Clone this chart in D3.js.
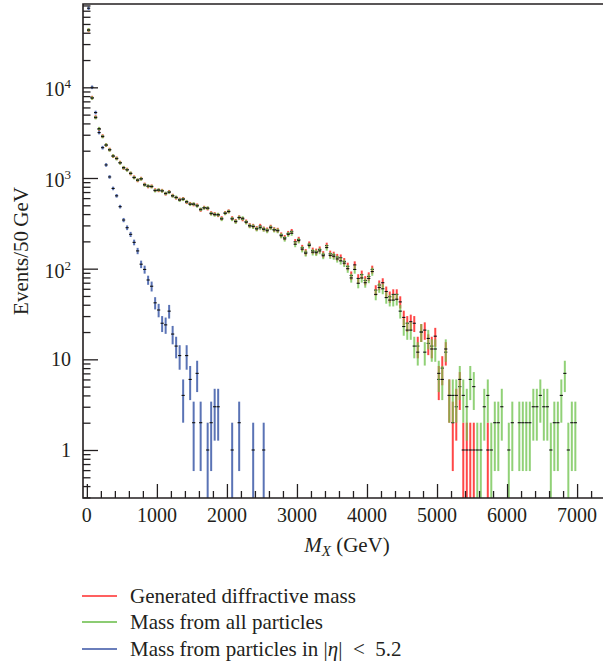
<!DOCTYPE html>
<html>
<head>
<meta charset="utf-8">
<script src="https://cdn.jsdelivr.net/npm/d3@7"></script>
<style>
  body { margin: 0; background: #fff; }
  text { font-family: "Liberation Serif", "DejaVu Serif", serif; fill: #231f20; }
</style>
</head>
<body>
<svg id="chart" width="603" height="665"></svg>
<script>
// Event counts per 50 GeV bin of the diffractive mass M_X (bin i covers [50*i, 50*i+50) GeV)
const binWidth = 50;

const generatedMass = [
  42500, 7700, 4700, 3450, 2900, 2300, 2060, 1740, 1650, 1480,
  1290, 1240, 1120, 1020, 940, 985, 850, 805, 810, 735,
  730, 725, 670, 705, 640, 605, 580, 590, 540, 520,
  510, 500, 445, 472, 460, 410, 400, 390, 360, 412,
  430, 360, 335, 368, 352, 330, 300, 295, 278, 295,
  275, 268, 288, 270, 266, 236, 220, 245, 258, 198,
  210, 170, 152, 186, 158, 154, 163, 144, 180, 146,
  142, 134, 132, 120, 106, 84, 110, 78, 86, 74,
  82, 98, 58, 66, 70, 56, 49, 52, 52, 43,
  29, 25, 26, 25, 14, 20, 21, 15, 14, 18,
  6, 8, 12, 4, 2, 3, 5, 1, 1, 1,
  1, 0, 0, 0, 1, 0, 0, 0, 0, 0,
  0, 0, 0, 0, 0, 0, 0, 0, 0, 0,
  0, 0, 0, 0, 0, 0, 0, 0, 0, 0
];

const allParticlesMass = [
  43000, 7600, 4630, 3500, 2860, 2315, 2040, 1750, 1635, 1465,
  1300, 1227, 1128, 1009, 951, 976, 838, 816, 803, 725,
  738, 719, 677, 696, 634, 612, 570, 583, 548, 513,
  517, 492, 452, 467, 467, 404, 394, 394, 353, 408,
  426, 353, 330, 365, 360, 325, 296, 291, 274, 283,
  272, 262, 283, 267, 262, 231, 213, 239, 246, 186,
  204, 164, 148, 180, 152, 150, 157, 139, 171, 140,
  137, 128, 122, 115, 100, 79, 98, 69, 79, 70,
  78, 93, 52, 62, 60, 48, 45, 45, 46, 34,
  23, 21, 21, 14, 12, 20, 12, 17, 13, 13,
  7, 6, 13, 4, 4, 4, 6, 4, 3, 6,
  5, 1, 1, 3, 4, 1, 2, 2, 3, 0,
  1, 2, 0, 2, 2, 2, 2, 3, 3, 4,
  3, 3, 1, 2, 2, 4, 7, 1, 2, 2
];

const etaCutMass = [
  74600, 10000, 5270, 3170, 2160, 1393, 1027, 767, 636, 483,
  344, 283, 239, 195, 157, 112, 98, 75, 64, 42,
  35, 25, 24, 34, 19, 14, 11, 4, 11, 6,
  2, 7, 2, 0, 1, 2, 3, 3, 0, 0,
  0, 1, 0, 2, 0, 0, 0, 1, 0, 0,
  1
];

const xTickValues = [0, 1000, 2000, 3000, 4000, 5000, 6000, 7000];
const yDecades = [1, 10, 100, 1000, 10000];
const yDecadeLabels = [["1", ""], ["10", ""], ["10", "2"], ["10", "3"], ["10", "4"]];

const seriesNames = ["Generated diffractive mass", "Mass from all particles", "Mass from particles in |\u03b7| < 5.2"];
const seriesColors = ["#ff2b2b", "#66bb44", "#3853a4"];
const barColors = ["#ff3333", "#6cc24a", "#3d5aa8"];
const barOpacity = [0.9, 0.75, 0.85];

const svg = d3.select("#chart");
const plot = { left: 83, right: 603, top: 4, bottom: 498 };

const x = d3.scaleLinear().domain([-55, 7370]).range([plot.left, plot.right]);
const y = d3.scaleLog().domain([0.2955, 83000]).range([plot.bottom, plot.top]);

svg.append("defs").append("clipPath").attr("id", "plotClip")
  .append("rect")
  .attr("x", plot.left).attr("y", plot.top)
  .attr("width", plot.right - plot.left).attr("height", plot.bottom - plot.top);

// ---- data: error bars (sqrt N) and bin markers ----
const dataLayer = svg.append("g").attr("clip-path", "url(#plotClip)");

function drawSeries(values, idx) {
  const pts = values
    .map((n, i) => ({ n, center: i * binWidth + binWidth / 2 }))
    .filter(d => d.n > 0);
  const g = dataLayer.append("g");
  g.selectAll("line.err").data(pts).join("line")
    .attr("class", "err")
    .attr("x1", d => x(d.center)).attr("x2", d => x(d.center))
    .attr("y1", d => Math.min(y(d.n + Math.sqrt(d.n)), y(d.n) - 1.8))
    .attr("y2", d => {
      const lo = d.n - Math.sqrt(d.n);
      const yl = lo > 0 ? y(lo) : plot.bottom + 5;
      return Math.max(yl, y(d.n) + 1.8);
    })
    .attr("stroke", barColors[idx])
    .attr("stroke-opacity", barOpacity[idx])
    .attr("stroke-width", 2);
  return { g, pts };
}

const layers = [
  drawSeries(generatedMass, 0),
  drawSeries(allParticlesMass, 1),
  drawSeries(etaCutMass, 2)
];

layers.forEach(({ g, pts }) => {
  g.selectAll("line.mark").data(pts).join("line")
    .attr("class", "mark")
    .attr("x1", d => x(d.center) - 1.6).attr("x2", d => x(d.center) + 1.6)
    .attr("y1", d => y(d.n)).attr("y2", d => y(d.n))
    .attr("stroke", "#111").attr("stroke-width", 1.1);
});

// ---- axes ----
const axisColor = "#231f20";

// x axis: major and minor ticks pointing inward
const xMinor = d3.range(200, 7400, 200).filter(v => v % 1000 !== 0 && x(v) < plot.right);
const xAxisMajor = d3.axisBottom(x).tickValues(xTickValues).tickSize(-14).tickSizeOuter(0).tickFormat("");
const xAxisMinor = d3.axisBottom(x).tickValues(xMinor).tickSize(-7).tickSizeOuter(0).tickFormat("");
[xAxisMajor, xAxisMinor].forEach(ax => {
  const g = svg.append("g").attr("transform", `translate(0,${plot.bottom})`).call(ax);
  g.select(".domain").remove();
  g.selectAll(".tick line").attr("stroke", axisColor).attr("stroke-width", 1.3);
});

svg.append("g").selectAll("text").data(xTickValues).join("text")
  .attr("x", d => x(d)).attr("y", 522)
  .attr("text-anchor", "middle")
  .attr("font-size", 20)
  .text(d => d);

// y axis: decades and 2..9 subdivisions
const [yMin, yMax] = y.domain();
const yMinor = [];
for (let e = -1; e <= 4; e++) {
  for (let m = 2; m <= 9; m++) {
    const v = m * Math.pow(10, e);
    if (v >= yMin && v <= yMax) yMinor.push(v);
  }
}
const yAxisMajor = d3.axisLeft(y).tickValues(yDecades).tickSize(-15).tickSizeOuter(0).tickFormat("");
const yAxisMinor = d3.axisLeft(y).tickValues(yMinor).tickSize(-7.5).tickSizeOuter(0).tickFormat("");
[yAxisMajor, yAxisMinor].forEach(ax => {
  const g = svg.append("g").attr("transform", `translate(${plot.left},0)`).call(ax);
  g.select(".domain").remove();
  g.selectAll(".tick line").attr("stroke", axisColor).attr("stroke-width", 1.3);
});

const yLab = svg.append("g").selectAll("text").data(yDecades).join("text")
  .attr("x", 71)
  .attr("y", (d, i) => y(d) + (yDecadeLabels[i][1] ? 9 : 6.7))
  .attr("text-anchor", "end")
  .attr("font-size", 20);
yLab.append("tspan").text((d, i) => yDecadeLabels[i][0]);
yLab.append("tspan")
  .attr("font-size", 13)
  .attr("dy", -8)
  .text((d, i) => yDecadeLabels[i][1]);

// frame
svg.append("path")
  .attr("d", `M${plot.right},${plot.top}H${plot.left}V${plot.bottom}H${plot.right}`)
  .attr("fill", "none").attr("stroke", axisColor).attr("stroke-width", 1.6);

// axis titles
const xt = svg.append("text")
  .attr("x", 347).attr("y", 552)
  .attr("text-anchor", "middle")
  .attr("font-size", 21);
xt.append("tspan").attr("font-style", "italic").text("M");
xt.append("tspan").attr("font-style", "italic").attr("font-size", 15).attr("dy", 4).text("X");
xt.append("tspan").attr("dy", -4).text(" (GeV)");

svg.append("text")
  .attr("transform", "translate(28,251) rotate(-90)")
  .attr("text-anchor", "middle")
  .attr("font-size", 21)
  .text("Events/50\u2009GeV");

// legend
const legendY = [596, 622, 649];
const legend = svg.append("g");
seriesNames.forEach((name, i) => {
  legend.append("line")
    .attr("x1", 82).attr("x2", 117)
    .attr("y1", legendY[i]).attr("y2", legendY[i])
    .attr("stroke", seriesColors[i]).attr("stroke-width", 1.4);
  const t = legend.append("text")
    .attr("x", 130).attr("y", legendY[i] + 6.8)
    .attr("font-size", 21);
  if (name.includes("\u03b7")) {
    const [a, b] = name.split("\u03b7");
    t.append("tspan").text(a);
    t.append("tspan").attr("font-style", "italic").text("\u03b7");
    t.append("tspan").text(b.replace(" < ", "\u2002<\u2002"));
  } else {
    t.text(name);
  }
});
</script>
</body>
</html>
